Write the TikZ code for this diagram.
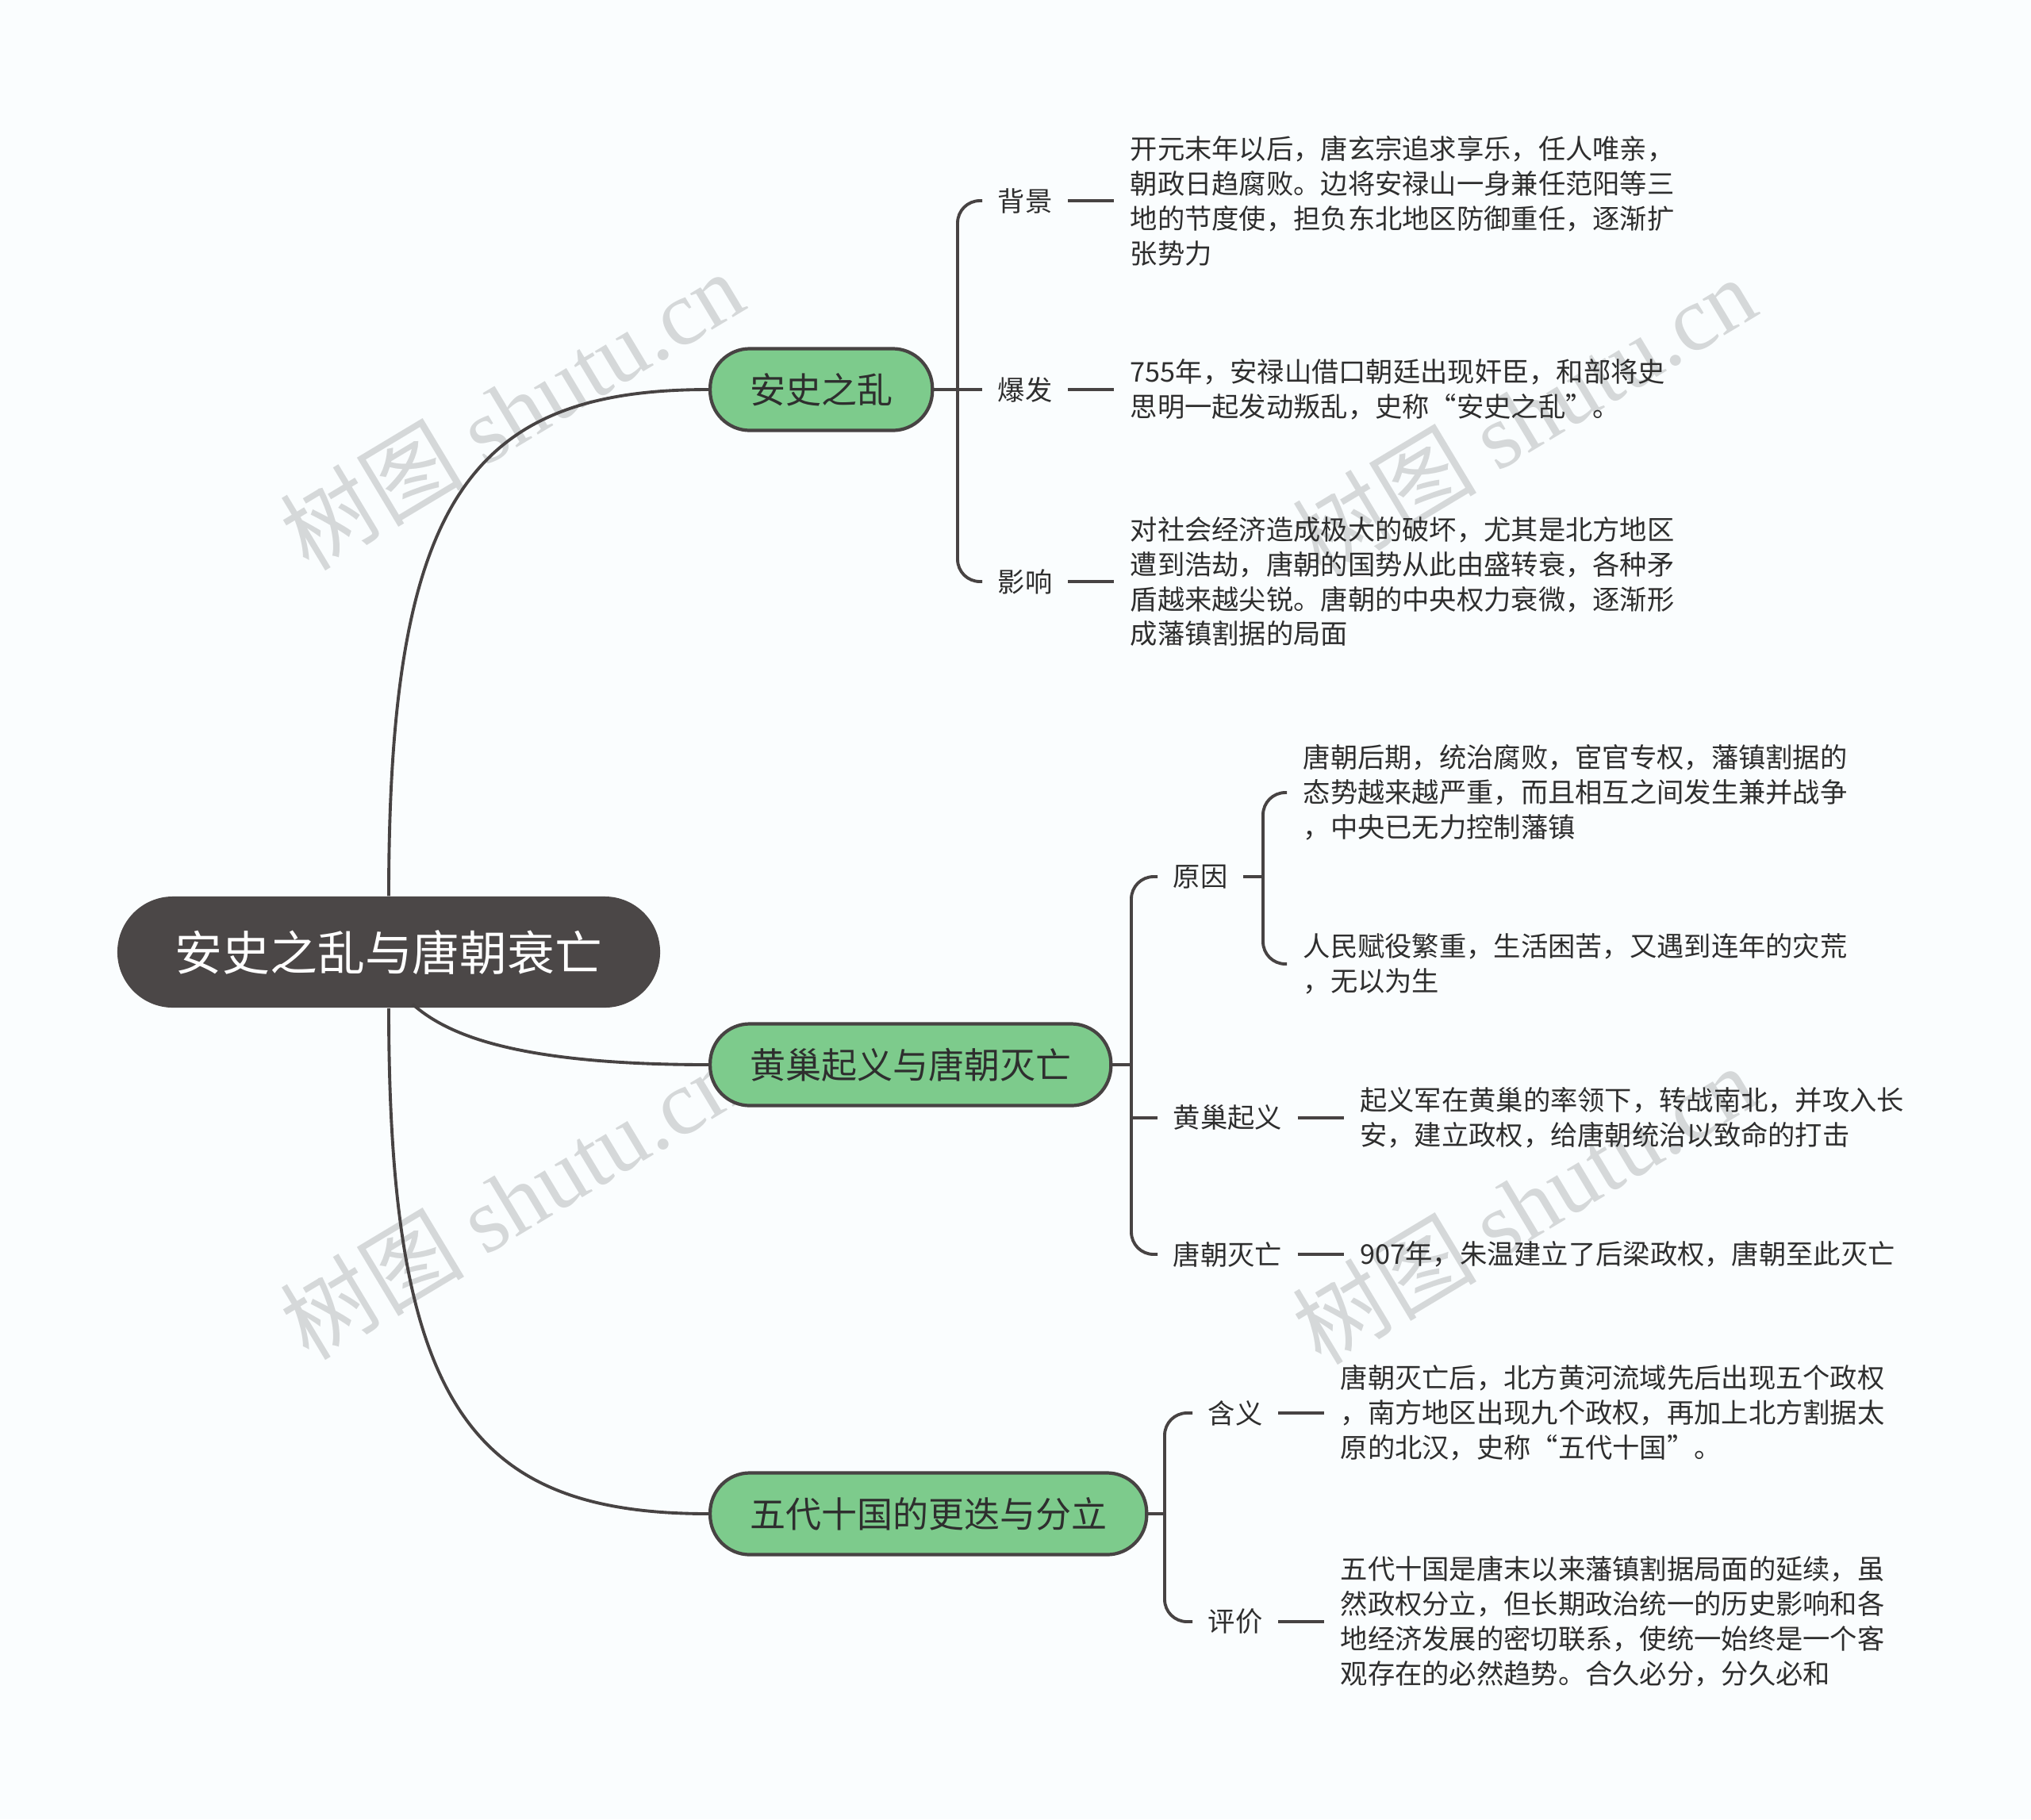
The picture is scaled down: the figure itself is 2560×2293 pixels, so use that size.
\documentclass[tikz,border=0pt]{standalone}
\usepackage{fontspec}
\setmainfont{Noto Sans CJK SC}
\newfontfamily\wmfont{Liberation Serif}
\usetikzlibrary{shapes,shapes.misc,positioning}
\definecolor{bgcol}{HTML}{FAFDFE}
\definecolor{linecol}{HTML}{474343}
\definecolor{rootcol}{HTML}{4B4747}
\definecolor{topiccol}{HTML}{7DCB8C}
\definecolor{wmcol}{HTML}{D5D8D9}
\definecolor{txtcol}{HTML}{2E2E2E}

\begin{document}
\begin{tikzpicture}[x=0.01cm, y=-0.01cm,
    every node/.append style={inner sep=0pt, text=txtcol},
    line/.style={draw=linecol, line width=1.1pt},
    bracket/.style={line, rounded corners=0.28cm}]
  \tikzstyle{rootbox} = [fill=rootcol, text=white, rounded corners=0.7cm, minimum height=1.4cm,
                         inner xsep=0.73cm, font=\fontsize{17pt}{20pt}\selectfont]
  \tikzstyle{topic} = [draw=linecol, line width=1.2pt, fill=topiccol, rounded corners=0.5cm,
                       minimum height=1.03cm, inner xsep=0.5cm, anchor=west,
                       font=\fontsize{12.8pt}{15pt}\selectfont]
  \tikzstyle{sub} = [anchor=west, inner xsep=0.19cm, font=\fontsize{9.75pt}{12.5pt}\selectfont]
  \tikzstyle{leaf} = [inner xsep=0.2cm, align=left, font=\fontsize{9.75pt}{12.5pt}\selectfont]
  \tikzstyle{wmark} = [text=wmcol, rotate=31, font=\fontsize{33pt}{38pt}\selectfont]

  \fill[bgcol] (0,0) rectangle (2560,2293);

  % watermarks
  \node (wm1) [wmark] at (645,517) {树图 {\wmfont shutu.cn}};
  \node (wm2) [wmark] at (1921,524) {树图 {\wmfont shutu.cn}};
  \node (wm3) [wmark] at (645,1512) {树图 {\wmfont shutu.cn}};
  \node (wm4) [wmark] at (1921,1518) {树图 {\wmfont shutu.cn}};

  % centre and main topics
  \node (root) [rootbox] at (490,1200) {安史之乱与唐朝衰亡};
  \node (anshi) [topic] at (893,491) {安史之乱};
  \node (huangchao) [topic] at (893,1342) {黄巢起义与唐朝灭亡};
  \node (wudai) [topic] at (893,1908) {五代十国的更迭与分立};

  \draw[line] (root.north) .. controls +(0,-500) and +(-300,0) .. (anshi.west);
  \draw[line] ([xshift=0.3cm,yshift=0.05cm]root.south) .. controls +(40,35) and +(-253,0) .. (huangchao.west);
  \draw[line] (root.south) .. controls +(0,500) and +(-300,0) .. (wudai.west);

  % 安史之乱
  \node (beijing) [sub] at (1238,253) {背景};
  \node (baofa) [sub] at (1238,491) {爆发};
  \node (yingxiang) [sub] at (1238,733) {影响};
  \node (beijingtext) [leaf, right=0.58cm of beijing] {开元末年以后，唐玄宗追求享乐，任人唯亲，\\朝政日趋腐败。边将安禄山一身兼任范阳等三\\地的节度使，担负东北地区防御重任，逐渐扩\\张势力};
  \node (baofatext) [leaf, right=0.58cm of baofa] {755年，安禄山借口朝廷出现奸臣，和部将史\\思明一起发动叛乱，史称“安史之乱”。};
  \node (yingxiangtext) [leaf, right=0.58cm of yingxiang] {对社会经济造成极大的破坏，尤其是北方地区\\遭到浩劫，唐朝的国势从此由盛转衰，各种矛\\盾越来越尖锐。唐朝的中央权力衰微，逐渐形\\成藩镇割据的局面};

  \coordinate (b1) at (1207,491);
  \draw[line] (anshi.east) -- (baofa.west);
  \draw[bracket] (beijing.west) -- (beijing.west -| b1) -- (yingxiang.west -| b1) -- (yingxiang.west);
  \draw[line] (beijing.east) -- (beijingtext.west);
  \draw[line] (baofa.east) -- (baofatext.west);
  \draw[line] (yingxiang.east) -- (yingxiangtext.west);

  % 黄巢起义与唐朝灭亡
  \node (yuanyin) [sub] at (1459,1105) {原因};
  \node (qiyi) [sub] at (1459,1409) {黄巢起义};
  \node (miewang) [sub] at (1459,1581) {唐朝灭亡};
  \node (yuanyintexta) [leaf, anchor=west] at (1622,999) {唐朝后期，统治腐败，宦官专权，藩镇割据的\\态势越来越严重，而且相互之间发生兼并战争\\，中央已无力控制藩镇};
  \node (yuanyintextb) [leaf, anchor=west] at (1622,1215) {人民赋役繁重，生活困苦，又遇到连年的灾荒\\，无以为生};
  \node (qiyitext) [leaf, right=0.58cm of qiyi] {起义军在黄巢的率领下，转战南北，并攻入长\\安，建立政权，给唐朝统治以致命的打击};
  \node (miewangtext) [leaf, right=0.58cm of miewang] {907年，朱温建立了后梁政权，唐朝至此灭亡};

  \coordinate (b2) at (1426,1342);
  \coordinate (b3) at (1592,1105);
  \draw[line] (huangchao.east) -- (b2);
  \draw[bracket] (yuanyin.west) -- (yuanyin.west -| b2) -- (miewang.west -| b2) -- (miewang.west);
  \draw[line] (qiyi.west -| b2) -- (qiyi.west);
  \draw[line] (yuanyin.east) -- (b3);
  \draw[bracket] (yuanyintexta.west) -- (yuanyintexta.west -| b3) -- (yuanyintextb.west -| b3) -- (yuanyintextb.west);
  \draw[line] (qiyi.east) -- (qiyitext.west);
  \draw[line] (miewang.east) -- (miewangtext.west);

  % 五代十国的更迭与分立
  \node (hanyi) [sub] at (1503,1781) {含义};
  \node (pingjia) [sub] at (1503,2044) {评价};
  \node (hanyitext) [leaf, right=0.58cm of hanyi] {唐朝灭亡后，北方黄河流域先后出现五个政权\\，南方地区出现九个政权，再加上北方割据太\\原的北汉，史称“五代十国”。};
  \node (pingjiatext) [leaf, right=0.58cm of pingjia] {五代十国是唐末以来藩镇割据局面的延续，虽\\然政权分立，但长期政治统一的历史影响和各\\地经济发展的密切联系，使统一始终是一个客\\观存在的必然趋势。合久必分，分久必和};

  \coordinate (b4) at (1468,1908);
  \draw[line] (wudai.east) -- (b4);
  \draw[bracket] (hanyi.west) -- (hanyi.west -| b4) -- (pingjia.west -| b4) -- (pingjia.west);
  \draw[line] (hanyi.east) -- (hanyitext.west);
  \draw[line] (pingjia.east) -- (pingjiatext.west);
\end{tikzpicture}
\end{document}
